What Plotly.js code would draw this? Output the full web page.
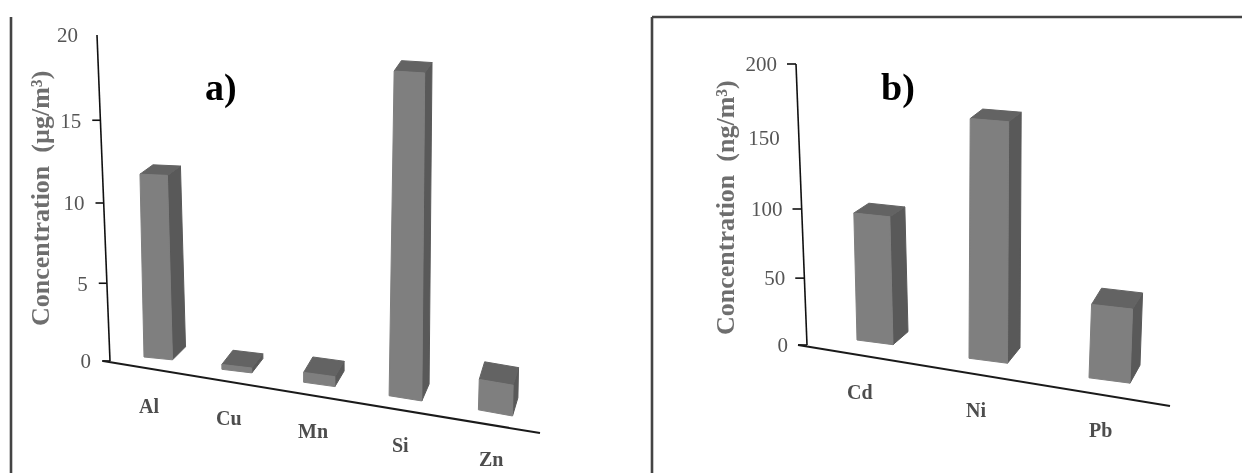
<!DOCTYPE html>
<html><head><meta charset="utf-8">
<script src="https://cdn.plot.ly/plotly-3.0.1.min.js"></script>
<style>html,body{margin:0;padding:0;background:#fff}#c{width:1242px;height:473px;filter:blur(0.55px)}</style>
</head><body><div id="c"></div>
<script>
// ---- data ----
const categoriesA = ['Al','Cu','Mn','Si','Zn'];
const valuesA = [11.5, 0.3, 0.6, 19.5, 1.8];
const ticksA = [0,5,10,15,20];
const tickMarksA = [0,5,10,15];
const categoriesB = ['Cd','Ni','Pb'];
const valuesB = [92, 170, 51];
const ticksB = [0,50,100,150,200];
const tickMarksB = [0,50,100,200];

// ---- oblique/perspective view of each panel (pixels) ----
const W = 1242, H = 473;
const viewA = {xa:'x',ya:'y',x0:0,x1:621,bx0:144,ux:76,wx:1.9,by0:357,bs:.158,
  kk:[15.9,.25],w:[28.5,1.4],taper:.0002,lean:[-.022,.0125],dx:[13,-1.9],dy:[-13,-1.3],dyh:.02,
  s:[.1,.02],st:.0003,ay0:361,aa:15.3,ab:.05,ax0:110,axs:.65,tick:8,
  base:[[103,361],[540,433]],lab:[5,2],labY:49,
  axisTop:20,title:'Concentration  (µg/m³)',tx:40,ty:199,panel:'a)',px:221,py:87};
const viewB = {xa:'x2',ya:'y2',x0:621,x1:1242,bx0:857,ux:108,wx:4,by0:340,bs:.163,
  kk:[1.38,.03],w:[36,2.5],taper:0,lean:[-.025,.03],dx:[15,-2.5],dy:[-13,-2.5],dyh:.025,
  s:[.13,0],st:.0002,ay0:345,aa:1.315,ab:.00045,ax0:807,axs:.055,tick:9,
  base:[[798,345],[1170,406]],lab:[3,4],labY:52,
  axisTop:200,title:'Concentration  (ng/m³)',tx:725,ty:208,panel:'b)',px:898,py:87};

const SERIF = '"Liberation Serif", serif';
const GREY = '#555555';
const traces = [], annotations = [];

function buildPanel(v, cats, vals, ticks, marks){
  v.scale = v.axisTop === 20 ? 16.3 : 1.405;
  // pixel -> axis units of this panel
  const dx = px => (px - v.bx0) / v.ux;
  const dy = py => (v.ay0 - py) / v.scale;
  const seg = (arr) => ({x: arr.map(p=>p===null?null:dx(p[0])), y: arr.map(p=>p===null?null:dy(p[1]))});

  const front = [], side = [], top = [];
  cats.forEach((c,i)=>{
    const bx = v.bx0 + v.ux*i + v.wx*i*i;
    const by = v.by0 + v.bs*(bx - v.bx0);
    const k = v.kk[0] + v.kk[1]*i;
    const h = vals[i]*k;
    const w = v.w[0] + v.w[1]*i;
    const wt = w*(1 - v.taper*h);
    const lean = v.lean[0] + v.lean[1]*i;
    const s0 = v.s[0] + v.s[1]*i;
    const st = s0 - v.st*h;
    const ddx = v.dx[0] + v.dx[1]*i;
    const ddy = v.dy[0] + v.dy[1]*i;
    const ddyT = ddy + v.dyh*h;
    const bl = [bx, by], br = [bx+w, by + s0*w];
    const tl = [bx + lean*h, by - h];
    const tr = [tl[0] + wt, tl[1] + st*wt];
    const bbr = [br[0]+ddx, br[1]+ddy];
    const btr = [tr[0]+ddx, tr[1]+ddyT];
    const btl = [tl[0]+ddx, tl[1]+ddyT];
    front.push(bl,br,tr,tl,bl,null);
    side.push(br,bbr,btr,tr,br,null);
    top.push(tl,tr,btr,btl,tl,null);
    annotations.push({xref:v.xa,yref:v.ya,x:dx(bx+v.lab[0]+v.lab[1]*i),y:dy(by+v.labY),text:'<b>'+c+'</b>',showarrow:false,
      xanchor:'center',yanchor:'middle',font:{family:SERIF,size:20,color:'#4d4d4d'}});
  });
  const face = (pts,col)=>{ const s=seg(pts);
    traces.push({type:'scatter',mode:'lines',xaxis:v.xa,yaxis:v.ya,x:s.x,y:s.y,fill:'toself',fillcolor:col,
      line:{color:col,width:1},hoverinfo:'skip',showlegend:false}); };
  face(side,'#595959'); face(top,'#636363'); face(front,'#7f7f7f');

  // tilted value axis, its ticks and labels
  const axP = t => [v.ax0 - v.axs*t, v.ay0 - v.aa*t - v.ab*t*t];
  const axis = seg([axP(0),axP(v.axisTop)]);
  traces.push({type:'scatter',mode:'lines',xaxis:v.xa,yaxis:v.ya,x:axis.x,y:axis.y,line:{color:'#111',width:1.6},hoverinfo:'skip',showlegend:false});
  const tk=[]; marks.forEach(t=>{const p=axP(t); tk.push([p[0]-v.tick,p[1]],p,null);});
  const tks=seg(tk);
  traces.push({type:'scatter',mode:'lines',xaxis:v.xa,yaxis:v.ya,x:tks.x,y:tks.y,line:{color:'#111',width:1.6},hoverinfo:'skip',showlegend:false});
  const lab=seg(ticks.map(t=>{const p=axP(t);return [p[0]-19,p[1]+2];}));
  traces.push({type:'scatter',mode:'text',xaxis:v.xa,yaxis:v.ya,x:lab.x,y:lab.y,text:ticks.map(String),textposition:'middle left',
    textfont:{family:SERIF,size:21,color:GREY},hoverinfo:'skip',showlegend:false});
  // tilted category axis
  const b=seg(v.base);
  traces.push({type:'scatter',mode:'lines',xaxis:v.xa,yaxis:v.ya,x:b.x,y:b.y,line:{color:'#1a1a1a',width:2},hoverinfo:'skip',showlegend:false});

  annotations.push({xref:v.xa,yref:v.ya,x:dx(v.tx),y:dy(v.ty),text:'<b>'+v.title+'</b>',textangle:-90,showarrow:false,
    font:{family:SERIF,size:26,color:'#6e6e6e'},xanchor:'center',yanchor:'middle'});
  annotations.push({xref:v.xa,yref:v.ya,x:dx(v.px),y:dy(v.py),text:'<b>'+v.panel+'</b>',showarrow:false,
    font:{family:SERIF,size:38,color:'#000'},xanchor:'center',yanchor:'middle'});

  return {
    x:{domain:[v.x0/W,v.x1/W],range:[dx(v.x0),dx(v.x1)],visible:false,fixedrange:true},
    y:{domain:[0,1],range:[dy(H),dy(0)],visible:false,fixedrange:true}
  };
}
const pa = buildPanel(viewA,categoriesA,valuesA,ticksA,tickMarksA);
const pb = buildPanel(viewB,categoriesB,valuesB,ticksB,tickMarksB);

const frame = (x0,y0,x1,y1)=>({type:'line',xref:'paper',yref:'paper',x0:x0/W,y0:1-y0/H,x1:x1/W,y1:1-y1/H,line:{color:'#444',width:2.6}});
const layout = {width:W,height:H,margin:{l:0,r:0,t:0,b:0},paper_bgcolor:'#fff',plot_bgcolor:'rgba(0,0,0,0)',showlegend:false,
  xaxis:pa.x,yaxis:pa.y,xaxis2:{...pb.x,anchor:'y2'},yaxis2:{...pb.y,anchor:'x2'},
  annotations,shapes:[frame(11,17,11,473),frame(652,17,652,473),frame(652,17,1242,17)]};
Plotly.newPlot('c',traces,layout,{displayModeBar:false,staticPlot:true});
</script></body></html>
